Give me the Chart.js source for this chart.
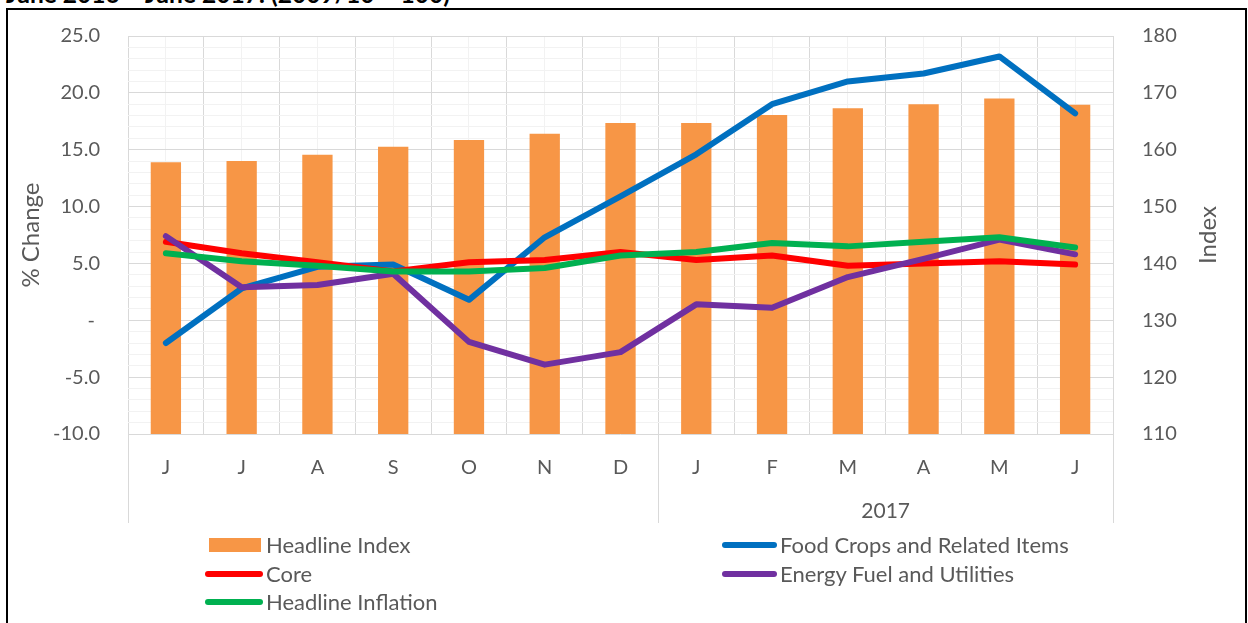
<!DOCTYPE html>
<html><head><meta charset="utf-8">
<script src="https://cdn.jsdelivr.net/npm/chart.js@4/dist/chart.umd.min.js"></script>
<style>
html,body{margin:0;padding:0;background:#fff;}
#wrap{position:relative;width:1248px;height:623px;overflow:hidden;background:#fff;}
#frame{position:absolute;left:6px;top:8px;width:1237px;height:700px;border:2px solid #000;}
#title{position:absolute;left:6px;top:-18px;font:bold 24.5px Lato, sans-serif;color:#000;white-space:nowrap;line-height:24px;}
canvas{position:absolute;left:0;top:0;}
.lg{position:absolute;font:22px Lato, sans-serif;color:#595959;white-space:nowrap;line-height:26px;}
.sw{position:absolute;}
</style>
</head><body>
<div id="wrap">
  <div id="frame"></div>
  <div id="title">June 2016 – June 2017: (2009/10 = 100)</div>
  <canvas id="c" width="1248" height="623"></canvas>
  <div id="legend"></div>
</div>
<script>
// ---- data ----
const categories = ['J','J','A','S','O','N','D','J','F','M','A','M','J'];
const yearLabels = ['', '2017'];
const yearStart = [0, 7];
const headlineIndex = [157.8, 158.0, 159.1, 160.5, 161.7, 162.8, 164.7, 164.7, 166.1, 167.3, 168.0, 169.0, 167.9];
const foodCrops = [-2.0, 2.8, 4.7, 4.9, 1.8, 7.3, 10.9, 14.6, 19.0, 21.0, 21.7, 23.2, 18.2];
const core = [6.9, 5.9, 5.1, 4.3, 5.1, 5.3, 6.0, 5.3, 5.7, 4.8, 5.0, 5.2, 4.9];
const energy = [7.4, 2.9, 3.1, 4.1, -1.9, -3.9, -2.8, 1.4, 1.1, 3.8, 5.4, 7.1, 5.8];
const headlineInflation = [5.9, 5.2, 4.8, 4.3, 4.3, 4.6, 5.7, 6.0, 6.8, 6.5, 6.9, 7.3, 6.4];
const leftTicks = {min: -10, max: 25, step: 1, major: 5};
const rightTicks = {min: 110, max: 180, step: 10};

const FONT = 'Lato, sans-serif';
const TXT = '#595959';

function lineDs(label, data, color, order) {
  return {type: 'line', label, data, borderColor: color, backgroundColor: color, borderWidth: 6,
    borderCapStyle: 'round', borderJoinStyle: 'round', pointRadius: 0, pointHoverRadius: 0,
    fill: false, tension: 0, yAxisID: 'y', xAxisID: 'x', order};
}

const yearPlugin = {
  id: 'yearAxis',
  afterDraw(chart) {
    const x = chart.scales.x, ctx = chart.ctx, top = chart.chartArea.bottom, bot = x.bottom;
    const px = i => x.getPixelForValue(i);
    const n = categories.length;
    ctx.save();
    ctx.strokeStyle = '#d9d9d9'; ctx.lineWidth = 1;
    const bounds = [];
    yearStart.forEach(s => bounds.push(s === 0 ? x.left : (px(s - 1) + px(s)) / 2));
    bounds.push(x.right);
    bounds.forEach(b => { const bx = Math.round(b) + 0.5; ctx.beginPath(); ctx.moveTo(bx, top); ctx.lineTo(bx, bot); ctx.stroke(); });
    ctx.fillStyle = TXT; ctx.font = '21px ' + FONT; ctx.textAlign = 'center'; ctx.textBaseline = 'middle';
    yearLabels.forEach((lab, k) => {
      const s = yearStart[k], e = k + 1 < yearStart.length ? yearStart[k + 1] - 1 : n - 1;
      ctx.fillText(lab, (px(s) + px(e)) / 2, 511);
    });
    // right axis title (reads bottom-to-top)
    const y1 = chart.scales.y1;
    ctx.font = '24px ' + FONT;
    ctx.translate(y1.left + 95, (chart.chartArea.top + chart.chartArea.bottom) / 2);
    ctx.rotate(-Math.PI / 2);
    ctx.fillText('Index', 0, 0);
    ctx.restore();
  }
};

const chart = new Chart(document.getElementById('c'), {
  data: {
    labels: categories,
    datasets: [
      {type: 'bar', label: 'Headline Index', data: headlineIndex, backgroundColor: '#F79646',
       yAxisID: 'y1', xAxisID: 'x', order: 10, barPercentage: 0.4, categoryPercentage: 1},
      lineDs('Food Crops and Related Items', foodCrops, '#0070C0', 4),
      lineDs('Core', core, '#FF0000', 3),
      lineDs('Energy Fuel and Utilities', energy, '#7030A0', 2),
      lineDs('Headline Inflation', headlineInflation, '#00B050', 1)
    ]
  },
  options: {
    responsive: false, animation: false, devicePixelRatio: 1,
    layout: {padding: {left: 0, right: 0, top: 36, bottom: 100}},
    plugins: {legend: {display: false}, tooltip: {enabled: false}},
    scales: {
      x: {type: 'category', position: 'bottom', offset: true,
          grid: {offset: false, color: '#f2f2f2', drawTicks: false},
          border: {display: false},
          ticks: {color: TXT, font: {family: FONT, size: 20}, padding: 22, maxRotation: 0, autoSkip: false},
          afterFit(s) { s.height = 89; }},
      xb: {type: 'category', position: 'bottom', offset: true,
          grid: {offset: true, color: '#d9d9d9', drawTicks: false},
          border: {display: false},
          ticks: {display: false},
          afterFit(s) { s.height = 0; }},
      y: {type: 'linear', position: 'left', min: leftTicks.min, max: leftTicks.max,
          ticks: {stepSize: leftTicks.step, autoSkip: false, color: TXT, font: {family: FONT, size: 20}, padding: 28,
                  callback: v => v % leftTicks.major === 0 ? (v === 0 ? '- ' : v.toFixed(1)) : ''},
          grid: {color: c => (c.tick && c.tick.value % leftTicks.major === 0) ? '#d9d9d9' : '#f2f2f2', drawTicks: false},
          border: {display: false},
          title: {display: true, text: '% Change', color: TXT, font: {family: FONT, size: 24}, padding: {top: 17, bottom: 0}},
          afterFit(s) { s.width = 128; s.paddingTop = 0; s.paddingBottom = 0; }},
      y1: {type: 'linear', position: 'right', min: rightTicks.min, max: rightTicks.max,
          ticks: {stepSize: rightTicks.step, color: TXT, font: {family: FONT, size: 20}, padding: 29},
          grid: {drawOnChartArea: false, drawTicks: false},
          border: {display: false},
          afterFit(s) { s.width = 135; s.paddingTop = 0; s.paddingBottom = 0; }}
    }
  },
  plugins: [yearPlugin]
});

// ---- HTML legend built from datasets ----
const legendCols = [{sw: 205, text: 266}, {sw: 722, text: 780}];
const legendRows = [545, 574, 602];
const lg = document.getElementById('legend');
chart.data.datasets.forEach((ds, i) => {
  const col = legendCols[i % 2], row = legendRows[Math.floor(i / 2)];
  const sw = document.createElement('div');
  sw.className = 'sw';
  if (ds.type === 'bar') {
    Object.assign(sw.style, {left: (col.sw + 4) + 'px', top: (row - 7) + 'px', width: '52px', height: '14px', background: ds.backgroundColor});
  } else {
    Object.assign(sw.style, {left: col.sw + 'px', top: (row - 3) + 'px', width: (col.text - col.sw - 3) + 'px', height: '6px', background: ds.borderColor, borderRadius: '3px'});
  }
  lg.appendChild(sw);
  const t = document.createElement('div');
  t.className = 'lg';
  t.textContent = ds.label;
  Object.assign(t.style, {left: col.text + 'px', top: (row - 13) + 'px'});
  lg.appendChild(t);
});
</script>
</body></html>
